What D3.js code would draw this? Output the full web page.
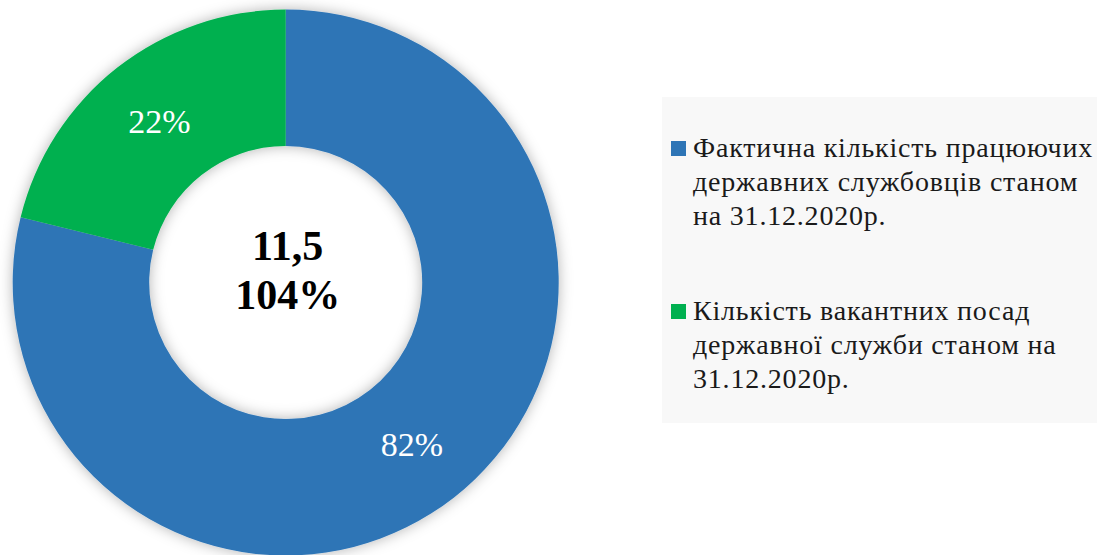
<!DOCTYPE html>
<html>
<head>
<meta charset="utf-8">
<script src="https://cdn.jsdelivr.net/npm/d3@7"></script>
<style>
    body { margin: 0; background: #fff; }
    svg { display: block; }
    svg text { font-family: "Times New Roman", "Liberation Serif", "DejaVu Serif", serif; }
</style>
</head>
<body>
<svg id="chart" width="1101" height="555"></svg>
<script>
// data
const categories = [
    ["Фактична кількість працюючих", "державних службовців станом", "на 31.12.2020р."],
    ["Кількість вакантних посад", "державної служби станом на", "31.12.2020р."]
];
const values = [82, 22];
const valueLabels = ["82%", "22%"];
const centerLines = ["11,5", "104%"];
const colors = ["#2E75B6", "#00B050"];

const svg = d3.select("#chart");

const cx = 285.7, cy = 282.5;
const outerR = 273, innerR = 136.5;

// soft shadow round the ring
const defs = svg.append("defs");
const f = defs.append("filter").attr("id", "glow")
    .attr("x", "-20%").attr("y", "-20%").attr("width", "140%").attr("height", "140%");
f.append("feGaussianBlur").attr("in", "SourceAlpha").attr("stdDeviation", 7).attr("result", "blur");
f.append("feFlood").attr("flood-color", "#000").attr("flood-opacity", 0.3);
f.append("feComposite").attr("in2", "blur").attr("operator", "in").attr("result", "shadow");
const m = f.append("feMerge");
m.append("feMergeNode").attr("in", "shadow");
m.append("feMergeNode").attr("in", "SourceGraphic");

const pie = d3.pie().sort(null).value(d => d);
const arcs = pie(values);
const arc = d3.arc().innerRadius(innerR).outerRadius(outerR);

const g = svg.append("g").attr("transform", `translate(${cx},${cy})`);

g.append("g")
    .attr("filter", "url(#glow)")
    .selectAll("path")
    .data(arcs)
    .enter()
    .append("path")
    .attr("d", arc)
    .attr("fill", (d, i) => colors[i]);

g.selectAll("text.val")
    .data(arcs)
    .enter()
    .append("text")
    .attr("class", "val")
    .attr("transform", d => `translate(${arc.centroid(d)})`)
    .attr("dy", "0.35em")
    .attr("text-anchor", "middle")
    .attr("fill", "#fff")
    .style("font-size", "34px")
    .text((d, i) => valueLabels[i]);

g.append("text")
    .attr("text-anchor", "middle")
    .style("font-size", "42px")
    .style("font-weight", "bold")
    .selectAll("tspan")
    .data(centerLines)
    .enter()
    .append("tspan")
    .attr("x", 2)
    .attr("y", (d, i) => -22.5 + i * 49)
    .text(d => d);

// legend
const legend = svg.append("g");
legend.append("rect")
    .attr("x", 662).attr("y", 97)
    .attr("width", 435).attr("height", 326)
    .attr("fill", "#f8f8f8");

const item = legend.selectAll("g.item")
    .data(categories)
    .enter()
    .append("g")
    .attr("class", "item")
    .attr("transform", (d, i) => `translate(671,${141 + i * 163})`);

item.append("rect")
    .attr("width", 15).attr("height", 15)
    .attr("fill", (d, i) => colors[i]);

item.append("text")
    .style("font-size", "28px")
    .style("letter-spacing", "0.8px")
    .attr("fill", "#1a1a1a")
    .selectAll("tspan")
    .data(d => d)
    .enter()
    .append("tspan")
    .attr("x", 22)
    .attr("y", (d, i) => 16 + i * 34)
    .text(d => d);
</script>
</body>
</html>
